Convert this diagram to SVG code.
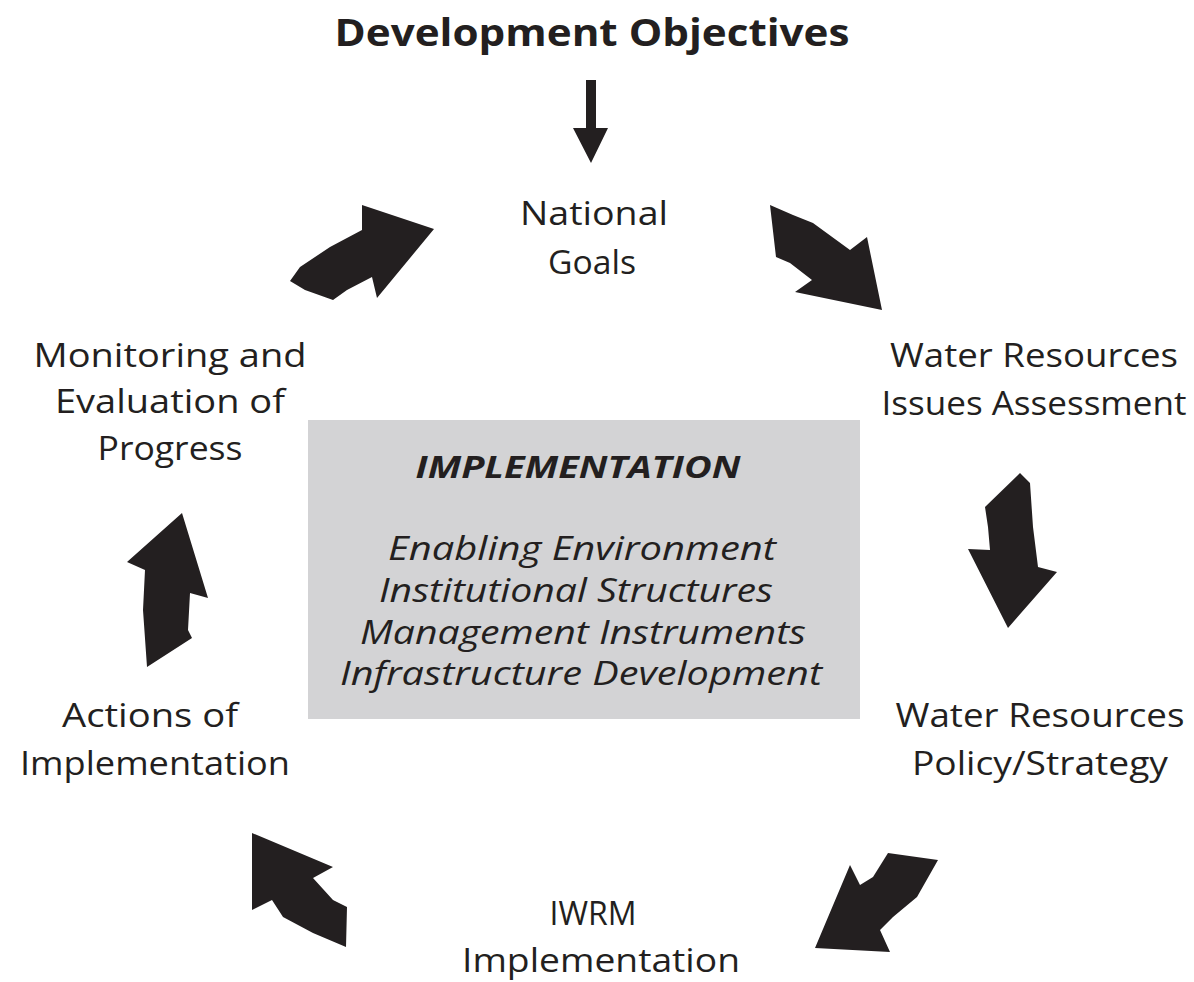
<svg xmlns="http://www.w3.org/2000/svg" width="1194" height="982" viewBox="0 0 1194 982">
<style>
text{font-family:"Open Sans","Noto Sans","Liberation Sans",sans-serif;fill:#231f20;text-anchor:middle}
.lbl{font-size:32px}
.title{font-size:38px;font-weight:bold}
.box{font-size:32px;font-style:italic}
.boxh{font-size:31px;font-style:italic;font-weight:bold}
.arr{fill:#231f20}
</style>
<rect width="1194" height="982" fill="#ffffff"/>
<g id="title"><text class="title" x="592" y="46" textLength="515" lengthAdjust="spacingAndGlyphs">Development Objectives</text></g>
<g id="national-goals"><text class="lbl" x="594" y="225" textLength="148" lengthAdjust="spacingAndGlyphs">National</text><text class="lbl" x="592" y="274" textLength="88" lengthAdjust="spacingAndGlyphs">Goals</text></g>
<g id="issues-assessment"><text class="lbl" x="1034" y="367" textLength="288" lengthAdjust="spacingAndGlyphs">Water Resources</text><text class="lbl" x="1034" y="415" textLength="305" lengthAdjust="spacingAndGlyphs">Issues Assessment</text></g>
<g id="policy-strategy"><text class="lbl" x="1040" y="727" textLength="289" lengthAdjust="spacingAndGlyphs">Water Resources</text><text class="lbl" x="1040" y="775" textLength="256" lengthAdjust="spacingAndGlyphs">Policy/Strategy</text></g>
<g id="iwrm-implementation"><text class="lbl" x="593" y="925" textLength="87" lengthAdjust="spacingAndGlyphs">IWRM</text><text class="lbl" x="601" y="972" textLength="278" lengthAdjust="spacingAndGlyphs">Implementation</text></g>
<g id="actions"><text class="lbl" x="150" y="727" textLength="176" lengthAdjust="spacingAndGlyphs">Actions of</text><text class="lbl" x="155" y="775" textLength="270" lengthAdjust="spacingAndGlyphs">Implementation</text></g>
<g id="monitoring"><text class="lbl" x="170" y="367" textLength="273" lengthAdjust="spacingAndGlyphs">Monitoring and</text><text class="lbl" x="170" y="413" textLength="230" lengthAdjust="spacingAndGlyphs">Evaluation of</text><text class="lbl" x="170" y="460" textLength="145" lengthAdjust="spacingAndGlyphs">Progress</text></g>
<g id="implementation-box">
<rect x="308" y="420" width="552" height="299" fill="#d3d3d5"/>
<text class="boxh" x="578" y="478" textLength="325" lengthAdjust="spacingAndGlyphs">IMPLEMENTATION</text>
<text class="box" x="582" y="560" textLength="388" lengthAdjust="spacingAndGlyphs">Enabling Environment</text>
<text class="box" x="576" y="602" textLength="394" lengthAdjust="spacingAndGlyphs">Institutional Structures</text>
<text class="box" x="583" y="644" textLength="446" lengthAdjust="spacingAndGlyphs">Management Instruments</text>
<text class="box" x="581" y="685" textLength="482" lengthAdjust="spacingAndGlyphs">Infrastructure Development</text>
</g>
<g id="connectors">
<polygon class="arr" points="586,80 596,80 596,128 608,128 591,163 573,128 586,128"/>
<polygon class="arr" points="290,281 300,267 330,247 362,230 362,205 434,229 377,298 372,277 347,290 333,300 305,290"/>
<polygon class="arr" points="770,205 793,215 813,223 850,250 867,237 882,310 795,292 812,280 790,263 776,257"/>
<polygon class="arr" points="1020,473 985,507 988,527 990,550 968,549 1008,628 1057,572 1038,567 1033,527 1030,483"/>
<polygon class="arr" points="888,853 938,860 917,897 893,917 880,930 890,952 815,948 850,865 860,885 873,877"/>
<polygon class="arr" points="252,833 333,867 313,878 333,900 347,907 346,947 313,933 283,917 272,900 252,910"/>
<polygon class="arr" points="182,513 208,598 190,593 188,630 192,638 147,667 143,610 145,570 127,562"/>
</g>
</svg>
